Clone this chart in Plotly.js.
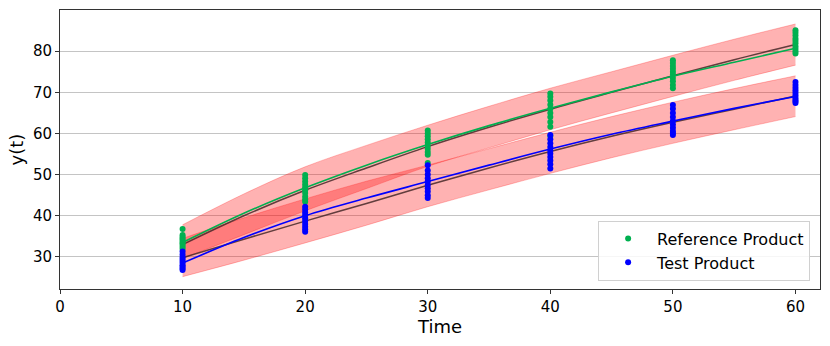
<!DOCTYPE html>
<html>
<head>
<meta charset="utf-8">
<script src="https://cdn.plot.ly/plotly-3.0.1.min.js"></script>
<style>html,body{margin:0;padding:0;background:#fff;}#chart{width:830px;height:346px;}</style>
</head>
<body>
<div id="chart"></div>
<script>
// ---- data ----
const sampleTimes = [10, 20, 30, 40, 50, 60];
const refPoints = [
  [36.8, 35.3, 34.9, 34.5, 34.1, 33.7, 33.3, 32.9, 32.4, 31.9],
  [49.9, 49.1, 48.3, 47.6, 46.9, 46.2, 45.5, 44.7, 44.0, 43.4],
  [60.7, 60.0, 59.3, 58.6, 57.8, 57.0, 56.3, 55.5, 54.8, 52.8],
  [69.7, 68.9, 68.0, 67.0, 66.0, 65.0, 64.0, 62.8, 61.6, 59.4],
  [77.8, 77.1, 76.4, 75.7, 75.0, 74.3, 73.5, 72.7, 71.8, 71.0],
  [85.1, 84.5, 83.8, 83.1, 82.5, 81.9, 81.2, 80.6, 80.0, 79.4]
];
const testPoints = [
  [31.3, 30.6, 30.0, 29.5, 29.0, 28.5, 28.0, 27.6, 27.2, 26.8],
  [42.2, 41.5, 40.8, 40.1, 39.4, 38.7, 38.0, 37.3, 36.7, 36.1],
  [52.3, 51.0, 50.0, 49.1, 48.3, 47.5, 46.7, 45.9, 45.0, 44.3],
  [59.6, 58.6, 57.6, 56.7, 55.9, 55.1, 54.3, 53.4, 52.5, 51.5],
  [66.9, 66.0, 65.0, 64.0, 63.0, 62.2, 61.4, 60.6, 60.1, 59.6],
  [72.5, 71.8, 71.1, 70.5, 69.9, 69.3, 68.7, 68.2, 67.8, 67.4]
];
const curveTimes = [10, 15, 20, 25, 30, 35, 40, 45, 50, 55, 60];
const refModel = [33.0, 40.0, 46.2, 51.6, 56.8, 61.5, 65.9, 70.0, 74.0, 77.9, 81.6];
const refFit   = [33.5, 40.6, 46.8, 52.3, 57.3, 61.9, 66.1, 70.1, 73.9, 77.3, 80.7];
const testModel = [29.8, 34.3, 38.7, 43.0, 47.4, 51.6, 55.6, 59.3, 62.7, 65.9, 69.1];
const testFit   = [28.5, 34.7, 40.0, 44.3, 48.3, 52.3, 56.2, 59.8, 63.0, 66.1, 69.0];
const refUpper  = [37.8, 45.3, 51.9, 57.1, 62.0, 66.6, 71.0, 75.0, 79.0, 82.9, 86.6];
const refLower  = [29.6, 35.4, 41.2, 46.6, 52.0, 56.5, 60.9, 65.0, 69.0, 72.9, 76.6];
const testUpper = [34.5, 39.5, 44.1, 48.4, 52.3, 56.3, 60.3, 64.1, 67.6, 70.9, 74.0];
const testLower = [25.2, 29.2, 33.4, 37.7, 42.2, 46.3, 50.3, 54.1, 57.6, 60.9, 64.1];
const seriesNames = ['Reference Product', 'Test Product'];

// ---- build traces ----
function flatten(times, pts) {
  const x = [], y = [];
  times.forEach((t, i) => pts[i].forEach(v => { x.push(t); y.push(v); }));
  return {x, y};
}
const bandFill = 'rgba(255,0,0,0.3)';
const bandEdge = 'rgba(255,0,0,0.25)';
function band(lower, upper) {
  return [
    {x: curveTimes, y: lower, mode: 'lines', line: {color: bandEdge, width: 1, shape: 'spline'}, showlegend: false, hoverinfo: 'skip'},
    {x: curveTimes, y: upper, mode: 'lines', fill: 'tonexty', fillcolor: bandFill, line: {color: bandEdge, width: 1, shape: 'spline'}, showlegend: false, hoverinfo: 'skip'}
  ];
}
const darkLine = {color: 'rgba(70,40,40,0.85)', width: 1.5, shape: 'spline'};
const refP = flatten(sampleTimes, refPoints);
const testP = flatten(sampleTimes, testPoints);
const traces = [
  ...band(refLower, refUpper),
  ...band(testLower, testUpper),
  {x: curveTimes, y: refModel, mode: 'lines', line: darkLine, showlegend: false},
  {x: curveTimes, y: testModel, mode: 'lines', line: darkLine, showlegend: false},
  {x: curveTimes, y: refFit, mode: 'lines', line: {color: '#00b050', width: 1.6, shape: 'spline'}, showlegend: false},
  {x: curveTimes, y: testFit, mode: 'lines', line: {color: '#0000ff', width: 1.6, shape: 'spline'}, showlegend: false},
  {x: refP.x, y: refP.y, mode: 'markers', name: seriesNames[0], marker: {color: '#00b050', size: 6}},
  {x: testP.x, y: testP.y, mode: 'markers', name: seriesNames[1], marker: {color: '#0000ff', size: 6}}
];

const layout = {
  width: 830, height: 346,
  margin: {l: 60, r: 10, t: 10, b: 57},
  paper_bgcolor: '#fff', plot_bgcolor: '#fff',
  font: {family: 'DejaVu Sans', size: 14, color: '#000'},
  xaxis: {
    range: [0, 62], tickvals: [0, 10, 20, 30, 40, 50, 60],
    ticks: 'outside', ticklen: 4, tickcolor: '#333',
    showline: true, mirror: true, linecolor: '#333', linewidth: 1,
    showgrid: false, zeroline: false,
    tickfont: {size: 15},
    title: {text: 'Time', font: {size: 18}, standoff: 4}
  },
  yaxis: {
    range: [22.2, 90], tickvals: [30, 40, 50, 60, 70, 80],
    ticks: 'outside', ticklen: 4, tickcolor: '#333',
    showline: true, mirror: true, linecolor: '#333', linewidth: 1,
    showgrid: true, gridcolor: '#c4c4c4', gridwidth: 1, zeroline: false,
    tickfont: {size: 15},
    title: {text: 'y(t)', font: {size: 18}, standoff: 4}
  },
  legend: {
    x: 0.987, y: 0.03, xanchor: 'right', yanchor: 'bottom',
    traceorder: 'normal', itemwidth: 48,
    bgcolor: 'rgba(255,255,255,0.85)', bordercolor: '#d0d0d0', borderwidth: 1,
    font: {size: 16}, tracegroupgap: 0
  },
  showlegend: true
};
Plotly.newPlot('chart', traces, layout, {displayModeBar: false, staticPlot: true});
</script>
</body>
</html>
